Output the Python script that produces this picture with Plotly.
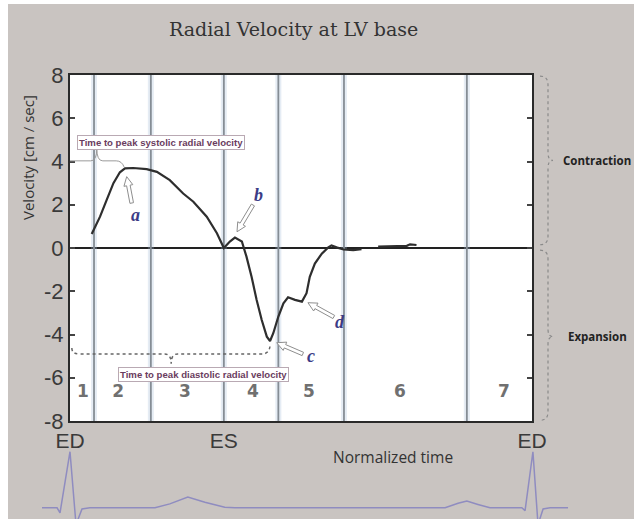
import math
import plotly.graph_objects as go

# ---------------- data ----------------
time_norm = [0.047, 0.065, 0.079, 0.094, 0.108, 0.119, 0.137, 0.166, 0.188, 0.216,
             0.245, 0.267, 0.296, 0.318, 0.333, 0.346, 0.357, 0.372, 0.382, 0.393,
             0.404, 0.415, 0.426, 0.433, 0.440, 0.451, 0.462, 0.472, 0.487, 0.502,
             0.512, 0.519, 0.530, 0.545, 0.559, 0.566, 0.577, 0.592, 0.613, 0.631,
             None, 0.667, 0.677, 0.703, 0.729, 0.736, 0.750]
velocity = [0.65, 1.45, 2.2, 3.0, 3.5, 3.68, 3.7, 3.65, 3.52, 3.14,
            2.52, 2.14, 1.45, 0.68, 0.0, 0.3, 0.48, 0.3, -0.4, -1.33,
            -2.4, -3.33, -4.1, -4.3, -3.94, -3.17, -2.56, -2.28, -2.4, -2.48,
            -2.09, -1.33, -0.72, -0.26, 0.03, 0.12, 0.03, -0.07, -0.1, -0.05,
            None, 0.06, 0.07, 0.08, 0.1, 0.17, 0.14]

segment_bounds = [0.052, 0.175, 0.333, 0.451, 0.593, 0.859]
segment_labels = ["1", "2", "3", "4", "5", "6", "7"]
segment_label_pos = [0.028, 0.104, 0.249, 0.396, 0.517, 0.714, 0.939]
segment_label_y = -6.7

ytick_vals = [-8, -6, -4, -2, 0, 2, 4, 6, 8]
ytick_text = ["-8", "-6", "-4", "-2", "0", "2", "4", "6", "8"]
xtick_vals = [0, 0.333, 1]
xtick_text = ["ED", "ES", "ED"]

ecg_t = [-0.0606, -0.028, -0.0216, 0.0, 0.013, 0.026, 0.043, 0.184, 0.216, 0.255,
         0.292, 0.335, 0.357, 0.812, 0.840, 0.859, 0.883, 0.909, 0.978, 0.985,
         1.002, 1.013, 1.024, 1.039, 1.078]
ecg_amp = [0.0, 0.0, -0.09, 1.0, -0.3, -0.02, 0.0, 0.0, 0.07, 0.19,
           0.1, 0.01, 0.0, 0.0, 0.08, 0.12, 0.06, 0.0, 0.0, -0.05,
           1.0, -0.3, -0.02, 0.0, 0.0]

peak_letters = ["a", "b", "c", "d"]
peak_text_xy = [(0.141, 1.53), (0.407, 2.45), (0.522, -4.99), (0.584, -3.42)]
peak_tip_xy = [(0.1227, 3.30), (0.3615, 0.75), (0.4474, -4.38), (0.515, -2.53)]
peak_tail_xy = [(0.1336, 2.08), (0.396, 1.99), (0.504, -4.90), (0.571, -3.19)]

W, H = 634, 519
PX_L, PX_R, PX_T, PX_B = 70, 532, 75, 421
SX = (PX_R - PX_L) / 1.0      # px per unit time
SY = (PX_B - PX_T) / 16.0     # px per unit velocity
BG = "#c9c4c1"

fig = go.Figure()

# segment boundaries (halo + line)
bx, by = [], []
for b in segment_bounds:
    bx += [b, b, None]
    by += [-8, 8, None]
fig.add_trace(go.Scatter(x=bx, y=by, mode="lines", hoverinfo="skip",
                         line=dict(color="rgba(160,185,215,0.28)", width=6), showlegend=False))
fig.add_trace(go.Scatter(x=bx, y=by, mode="lines", hoverinfo="skip",
                         line=dict(color="#858d95", width=1.8), showlegend=False))

# velocity curve
fig.add_trace(go.Scatter(x=time_norm, y=velocity, mode="lines", connectgaps=False,
                         line=dict(color="#2e2e2e", width=2.2), showlegend=False))

# segment numbers
fig.add_trace(go.Scatter(x=segment_label_pos, y=[segment_label_y] * len(segment_labels),
                         mode="text", text=segment_labels,
                         textfont=dict(family="DejaVu Sans", size=17, color="#707070", weight="bold"),
                         showlegend=False, hoverinfo="skip"))

# ECG trace
fig.add_trace(go.Scatter(x=ecg_t, y=ecg_amp, xaxis="x2", yaxis="y2", mode="lines",
                         line=dict(color="#8f8cc0", width=1.5), showlegend=False, hoverinfo="skip"))

fig.update_layout(
    width=W, height=H,
    margin=dict(l=0, r=0, t=0, b=0),
    paper_bgcolor=BG,
    plot_bgcolor=BG,
    xaxis=dict(domain=[PX_L / W, PX_R / W], range=[0, 1], showgrid=False, zeroline=False,
               showline=True, mirror=True, linecolor="#2a2a2a", linewidth=2,
               tickmode="array", tickvals=xtick_vals, ticktext=xtick_text, ticks="",
               automargin=False,
               tickfont=dict(family="Liberation Sans", size=21, color="#3a3a3a")),
    yaxis=dict(domain=[1 - PX_B / H, 1 - PX_T / H], range=[-8, 8], showgrid=False,
               zeroline=True, zerolinecolor="#222222", zerolinewidth=2,
               showline=True, mirror="ticks", linecolor="#2a2a2a", linewidth=2,
               tickmode="array", tickvals=ytick_vals, ticktext=ytick_text,
               ticks="inside", ticklen=5, automargin=False,
               tickcolor="#444", tickwidth=1.5,
               tickfont=dict(family="Liberation Sans", size=22, color="#3a3a3a")),
    xaxis2=dict(domain=[0, 1], range=[-PX_L / SX, (W - PX_L) / SX],
                visible=False, anchor="y2"),
    yaxis2=dict(domain=[0, 74 / H], range=[-0.2, 1.12], visible=False, anchor="x2"),
    showlegend=False,
)

shapes = [
    dict(type="rect", xref="x domain", yref="y domain", x0=0, x1=1, y0=0, y1=1,
         fillcolor="white", line=dict(width=0), layer="below"),
    dict(type="rect", xref="paper", yref="paper", x0=0, x1=8 / W, y0=0, y1=1,
         fillcolor="white", line=dict(width=0), layer="below"),
    dict(type="rect", xref="paper", yref="paper", x0=0, x1=1, y0=1 - 4 / H, y1=1,
         fillcolor="white", line=dict(width=0), layer="below"),
    # systolic bracket
    dict(type="path", xref="x", yref="y",
         path="M 0,4.03 L 0.045,4.03 Q 0.058,4.03 0.058,4.6 Q 0.058,4.03 0.071,4.03 "
              "L 0.100,4.03 Q 0.112,4.03 0.117,3.75",
         line=dict(color="#9a9a9a", width=1)),
    # diastolic bracket (dotted)
    dict(type="path", xref="x", yref="y",
         path="M 0.004,-4.62 Q 0.004,-4.90 0.02,-4.90 L 0.205,-4.90 Q 0.219,-4.90 0.219,-5.35 "
              "Q 0.219,-4.90 0.233,-4.90 L 0.415,-4.90 Q 0.433,-4.90 0.433,-4.45",
         line=dict(color="#666666", width=1.5, dash="dot")),
]


def brace(top, mid, bottom):
    x0, xs, xp = 540 / W, 548 / W, 553 / W
    f = lambda v: (v + 8) / 16
    return dict(type="path", xref="paper", yref="y domain",
                path=(f"M {x0},{f(top)} Q {xs},{f(top)} {xs},{f(top - 0.4)} "
                      f"L {xs},{f(mid + 0.35)} Q {xs},{f(mid)} {xp},{f(mid)} "
                      f"Q {xs},{f(mid)} {xs},{f(mid - 0.35)} "
                      f"L {xs},{f(bottom + 0.4)} Q {xs},{f(bottom)} {x0},{f(bottom)}"),
                line=dict(color="#8a8a8a", width=1.2, dash="dot"))


def hollow_arrow(tip, tail, hl=9.0, hw=4.5, sw=1.8):
    # work in pixel space, then convert back to data units
    tx, ty = tip[0] * SX, -tip[1] * SY
    ax, ay = tail[0] * SX, -tail[1] * SY
    dx, dy = tx - ax, ty - ay
    L = math.hypot(dx, dy)
    dx, dy = dx / L, dy / L
    nx, ny = -dy, dx
    bxp, byp = tx - dx * hl, ty - dy * hl
    pts = [(ax + nx * sw, ay + ny * sw), (bxp + nx * sw, byp + ny * sw),
           (bxp + nx * hw, byp + ny * hw), (tx, ty),
           (bxp - nx * hw, byp - ny * hw), (bxp - nx * sw, byp - ny * sw),
           (ax - nx * sw, ay - ny * sw)]
    d = "M " + " L ".join(f"{px / SX:.5f},{-py / SY:.5f}" for px, py in pts) + " Z"
    return dict(type="path", xref="x", yref="y", path=d, fillcolor="white",
                line=dict(color="#8e8e8e", width=1), layer="above")


shapes.append(brace(7.95, 4.05, 0.15))
shapes.append(brace(-0.1, -4.1, -7.97))
for tip, tail in zip(peak_tip_xy, peak_tail_xy):
    shapes.append(hollow_arrow(tip, tail))
fig.update_layout(shapes=shapes)

ann = [
    dict(text="Radial Velocity at LV base", xref="paper", yref="paper", x=293 / W, y=1 - 29 / H,
         showarrow=False, xanchor="center", yanchor="middle",
         font=dict(family="DejaVu Serif", size=19, color="#333333")),
    dict(text="Velocity [cm / sec]", xref="paper", yref="paper", x=28 / W, y=1 - 158 / H,
         showarrow=False, textangle=-90, xanchor="center", yanchor="middle",
         font=dict(family="Open Sans", size=15, color="#333333")),
    dict(text="Normalized time", xref="paper", yref="paper", x=393 / W, y=1 - 457 / H,
         showarrow=False, xanchor="center", yanchor="middle",
         font=dict(family="Open Sans", size=15.5, color="#333333")),
    dict(text="<b>Contraction</b>", xref="paper", yref="y", x=561 / W, y=4.05,
         showarrow=False, xanchor="left", yanchor="middle",
         font=dict(family="Open Sans", size=11.5, color="#222222")),
    dict(text="<b>Expansion</b>", xref="paper", yref="y", x=566 / W, y=-4.1,
         showarrow=False, xanchor="left", yanchor="middle",
         font=dict(family="Open Sans", size=11.5, color="#222222")),
    dict(text="<b>Time to peak systolic radial velocity</b>", xref="x", yref="y",
         x=0.197, y=4.9, showarrow=False, xanchor="center", yanchor="middle",
         bgcolor="white", bordercolor="#b9a9b3", borderwidth=1, borderpad=1,
         font=dict(family="Liberation Sans", size=9.6, color="#6a3c5e")),
    dict(text="<b>Time to peak diastolic radial velocity</b>", xref="x", yref="y",
         x=0.288, y=-5.85, showarrow=False, xanchor="center", yanchor="middle",
         bgcolor="white", bordercolor="#b9a9b3", borderwidth=1, borderpad=1,
         font=dict(family="Liberation Sans", size=9.6, color="#6a3c5e")),
]

for letter, txy in zip(peak_letters, peak_text_xy):
    ann.append(dict(x=txy[0], y=txy[1], xref="x", yref="y", text=letter, showarrow=False,
                    font=dict(family="Liberation Serif", size=18, color="#3c3c86",
                              style="italic", weight="bold")))

fig.update_layout(annotations=ann)

fig.write_html("out.html", config={"displayModeBar": False},
               post_script="document.body.style.margin='0';")
